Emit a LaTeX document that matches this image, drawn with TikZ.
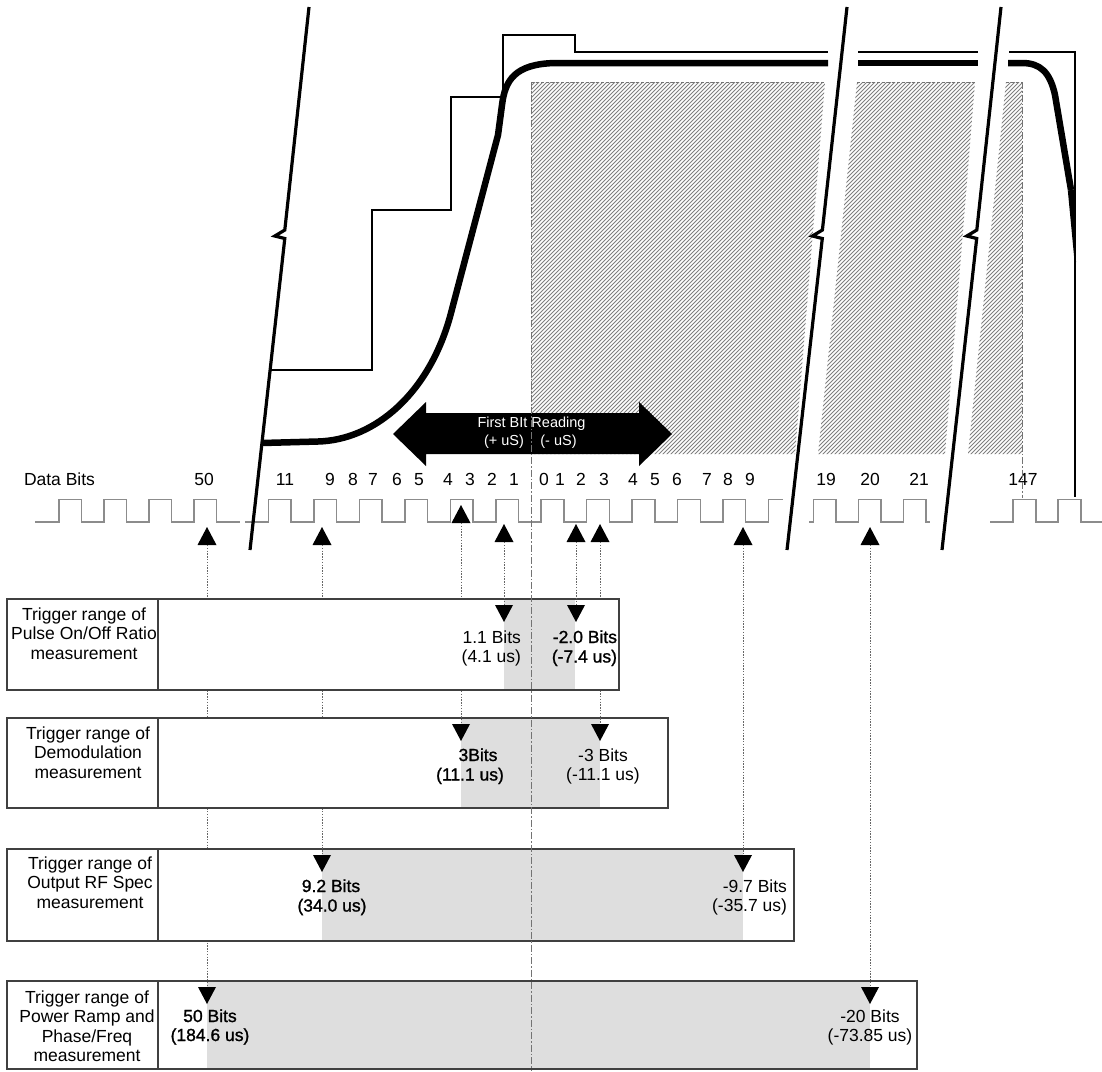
\documentclass[tikz,border=0pt]{standalone}
\usepackage{fontspec}
\setmainfont{Liberation Sans}
\newfontfamily\heavier[FakeBold=1.2]{Liberation Sans}
\newcommand\uptri[1]{\fill (#1) ++(-9.5,0) -- ++(19,0) -- ++(-9.5,-18) -- cycle;}
\newcommand\dntri[1]{\fill (#1) ++(-9,0) -- ++(18,0) -- ++(-9,17) -- cycle;}
\begin{document}
\begin{tikzpicture}[x=1pt,y=-1pt,
  every node/.style={inner sep=0pt, outer sep=0pt, font=\fontsize{17.5}{19.5}\selectfont},
  hv/.style={font=\heavier\fontsize{17.5}{19.5}\selectfont},
  bigline/.style={line width=6.5pt, line join=round},
  stepline/.style={line width=2.5pt, line join=miter},
  breakline/.style={line width=3.2pt, line join=miter},
  wave/.style={draw=black!45, line width=1.5pt},
  hatchline/.style={draw=black!50, line width=0.8pt},
  hatchborder/.style={draw=black!55, line width=0.8pt, dash pattern=on 3pt off 2pt},
  centerline/.style={draw=black!55, line width=0.9pt, dash pattern=on 7pt off 2pt on 1.5pt off 2pt},
  dotline/.style={draw=black!60, line width=1pt, dash pattern=on 1.3pt off 1.5pt},
  boxframe/.style={draw=black!75, line width=1.1pt},
  shadefill/.style={fill=black!13},
  panel/.style={align=center},
  arrowtext/.style={text=white, font=\fontsize{14.5}{16}\selectfont}
]
\useasboundingbox (0,0) rectangle (1102,1071);
\fill[white] (0,0) rectangle (1102,1071);

% ---------- hatched region ----------
\begin{scope}
\clip (531,82) -- (825,82) -- (795,454) -- (531,454) -- cycle
      (857,82) -- (975,82) -- (945,454) -- (818,454) -- cycle
      (1006,82) -- (1022,82) -- (1022,454) -- (968,454) -- cycle;
\foreach \i in {0,...,218} \draw[hatchline] ({157+4*\i},456) -- ++(376,-376);
\end{scope}
\draw[hatchborder] (531,82) -- (825,82) (857,82) -- (975,82) (1006,82) -- (1022,82);

% ---------- thin mask outline ----------
\draw[stepline] (271,370) -- (372,370) -- (372,210) -- (451,210) -- (451,97) -- (503,97) -- (503,35) -- (575,35) -- (575,52) -- (828,52);
\draw[stepline] (858,52) -- (978,52);
\draw[stepline] (1009,52) -- (1075,52) -- (1075,497);

% ---------- thick power curve ----------
\draw[bigline] (262,443) -- (318,441.5) .. controls (375,440) and (430,393) .. (451,313) -- (498,135) -- (502,105) .. controls (505,80) and (515,64) .. (555,63) -- (828,63);
\draw[bigline] (858,63) -- (978,63);
\draw[bigline] (1008,63) -- (1022,63) .. controls (1040,63) and (1050,72) .. (1055,95) -- (1071,190);
\fill (1067.8,190.5) -- (1074.2,189.5) -- (1076,262) -- (1074.6,262) -- cycle;

% ---------- data bit wave ----------
\draw[wave] (35,522) foreach \k in {0,...,3} { -- ({59+45*\k},522) -- ++(0,-22.5) -- ++(22.5,0) -- ++(0,22.5) } -- (240,522);
\draw[wave] (245,522) foreach \k in {0,...,10} { -- ({268.5+45.45*\k},522) -- ++(0,-22.5) -- ++(22.7,0) -- ++(0,22.5) } -- (768.5,522) -- (768.5,499.5) -- (783,499.5);
\draw[wave] (809,522) foreach \k in {0,1,2} { -- ({813.5+45*\k},522) -- ++(0,-22.5) -- ++(22.7,0) -- ++(0,22.5) } -- (930,522);
\draw[wave] (990,522) foreach \k in {0,1} { -- ({1013+45*\k},522) -- ++(0,-22.5) -- ++(23,0) -- ++(0,22.5) } -- (1102,522);

% ---------- break lines ----------
\draw[breakline] (309,7) -- (284.8,230) -- (274.8,236) -- (284.8,238.5) -- (250,550);
\draw[breakline] (847,7) -- (822.4,230) -- (812.4,236) -- (822.3,238.5) -- (787,550);
\draw[breakline] (1001,7) -- (976.8,230) -- (966.8,236) -- (976.7,238.5) -- (942,550);

% ---------- first bit reading arrow ----------
\fill (393,434) -- (426,402) -- (426,413) -- (639,413) -- (639,402) -- (672,434) -- (639,466) -- (639,454) -- (426,454) -- (426,466) -- cycle;
\node[arrowtext, anchor=base] (fbr) at (531.5,427) {First BIt Reading};
\node[arrowtext, anchor=base] (plus) at (504,445) {(+ uS)};
\node[arrowtext, anchor=base] (minus) at (558.5,445) {(- uS)};

% ---------- data bit labels ----------
\node[anchor=base] (databits) at (59.5,485) {Data Bits};
\foreach \x/\t in {204/50, 285/11, 330/9, 353/8, 373/7, 397/6, 419/5, 448/4, 470/3, 492/2, 514/1, 544/0, 560/1, 581/2, 604/3, 633/4, 655/5, 677/6, 707/7, 728/8, 750/9, 826/19, 870/20, 919/21, 1023/147}
  \node[anchor=base] (bit\x) at (\x,485) {\t};

% ---------- trigger markers ----------
\coordinate (u207) at (207,545);
\coordinate (u322) at (322,545);
\coordinate (u461) at (461,523);
\coordinate (u504) at (504,542);
\coordinate (u576) at (576,542);
\coordinate (u600) at (600,542);
\coordinate (u743) at (743,545);
\coordinate (u870) at (870,545);
\coordinate (d504) at (504,605);
\coordinate (d576) at (576,605);
\coordinate (d461) at (461,724);
\coordinate (d600) at (600,724);
\coordinate (d322) at (322,855);
\coordinate (d743) at (743,855);
\coordinate (d207) at (207,987);
\coordinate (d870) at (870,987);
\uptri{u207}\uptri{u322}\uptri{u461}\uptri{u504}
\uptri{u576}\uptri{u600}\uptri{u743}\uptri{u870}

% ---------- box 4 : power ramp ----------
\fill[white] (7,981) rectangle (917,1069);
\fill[shadefill] (207,981) rectangle (870,1069);
\draw[boxframe] (7,981) rectangle (917,1069) (158,981) -- (158,1069);
\draw[dotline] (u207) -- (d207);
\draw[dotline] (u870) -- (d870);
\dntri{d207}\dntri{d870}
\begin{scope}
\clip (7,981) rectangle (158,1069);
\node[panel] (p4) at (87,1026) {Trigger range of\\Power Ramp and\\Phase/Freq\\measurement};
\end{scope}
\node[hv, anchor=base] (l4a) at (210,1022) {50 Bits};
\node[hv, anchor=base] (l4b) at (210,1041) {(184.6 us)};
\node[anchor=base] (r4a) at (870,1022) {-20 Bits};
\node[anchor=base] (r4b) at (870,1041) {(-73.85 us)};

% ---------- box 3 : output RF spectrum ----------
\fill[white] (7,849) rectangle (794,941);
\fill[shadefill] (322,849) rectangle (743,941);
\draw[boxframe] (7,849) rectangle (794,941) (158,849) -- (158,941);
\draw[dotline] (u322) -- (d322);
\draw[dotline] (u743) -- (d743);
\dntri{d322}\dntri{d743}
\begin{scope}
\clip (7,849) rectangle (158,941);
\node[panel] (p3) at (90,882.5) {Trigger range of\\Output RF Spec\\measurement};
\end{scope}
\node[hv, anchor=base] (l3a) at (331,892) {9.2 Bits};
\node[hv, anchor=base] (l3b) at (332,911.5) {(34.0 us)};
\node[anchor=base east] (r3a) at (787,892) {-9.7 Bits};
\node[anchor=base east] (r3b) at (787,911.5) {(-35.7 us)};

% ---------- box 2 : demodulation ----------
\fill[white] (7,718) rectangle (668,808);
\fill[shadefill] (461,718) rectangle (600,808);
\draw[boxframe] (7,718) rectangle (668,808) (158,718) -- (158,808);
\draw[dotline] (u461) -- (d461);
\draw[dotline] (u600) -- (d600);
\dntri{d461}\dntri{d600}
\begin{scope}
\clip (7,718) rectangle (158,808);
\node[panel] (p2) at (88,752.5) {Trigger range of\\Demodulation\\measurement};
\end{scope}
\node[hv, anchor=base] (l2a) at (478,761) {3Bits};
\node[hv, anchor=base] (l2b) at (470,780.5) {(11.1 us)};
\node[anchor=base] (r2a) at (603,761) {-3 Bits};
\node[anchor=base] (r2b) at (603,780.5) {(-11.1 us)};

% ---------- box 1 : pulse on/off ratio ----------
\fill[white] (7,599) rectangle (619,690);
\fill[shadefill] (504,599) rectangle (575,690);
\draw[boxframe] (7,599) rectangle (619,690) (158,599) -- (158,690);
\draw[dotline] (u504) -- (d504);
\draw[dotline] (u576) -- (d576);
\dntri{d504}\dntri{d576}
\begin{scope}
\clip (7,599) rectangle (158,690);
\node[panel] (p1) at (84,633.5) {Trigger range of\\Pulse On/Off Ratio\\measurement};
\end{scope}
\node[anchor=base east] (l1a) at (521,643) {1.1 Bits};
\node[anchor=base east] (l1b) at (521,662.5) {(4.1 us)};
\node[hv, anchor=base east] (r1a) at (617,643) {-2.0 Bits};
\node[hv, anchor=base east] (r1b) at (617,662.5) {(-7.4 us)};

% ---------- reference lines ----------
\draw[centerline] (531,82) -- (531,1071);
\draw[centerline] (1022,82) -- (1022,498);
\end{tikzpicture}
\end{document}
